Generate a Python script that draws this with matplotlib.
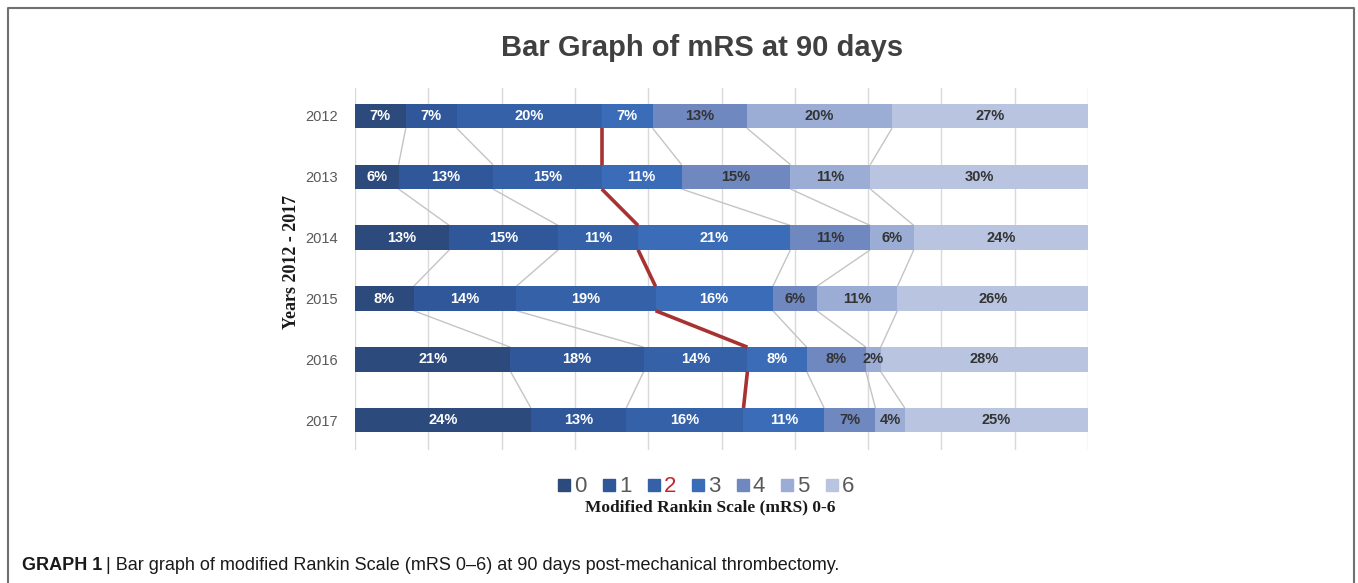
import numpy as np
import matplotlib.pyplot as plt
from matplotlib.lines import Line2D

# mRS distribution (%) at 90 days, categories 0..6
years = ["2012", "2013", "2014", "2015", "2016", "2017"]
mrs_labels = ["0", "1", "2", "3", "4", "5", "6"]
pct_2012 = [7, 7, 20, 7, 13, 20, 27]
pct_2013 = [6, 13, 15, 11, 15, 11, 30]
pct_2014 = [13, 15, 11, 21, 11, 6, 24]
pct_2015 = [8, 14, 19, 16, 6, 11, 26]
pct_2016 = [21, 18, 14, 8, 8, 2, 28]
pct_2017 = [24, 13, 16, 11, 7, 4, 25]

colors = ["#2c4a7c", "#30579a", "#3461a8", "#3b6cb8", "#7088c0", "#9badd4", "#b9c5e0"]
label_colors = ["white", "white", "white", "white", "#333333", "#333333", "#333333"]

plt.rcParams["font.family"] = ["Liberation Sans", "DejaVu Sans"]

data = np.array([pct_2012, pct_2013, pct_2014, pct_2015, pct_2016, pct_2017], dtype=float)
# bars are drawn as 100% stacked, so normalise each year
norm = data / data.sum(axis=1, keepdims=True) * 100
cum = np.cumsum(norm, axis=1)
left = cum - norm

fig = plt.figure(figsize=(13.58, 5.83), dpi=100)
ax = fig.add_axes([355 / 1358, 1 - 450 / 583, 733 / 1358, 362 / 583])

bar_h = 0.40
y = np.arange(len(years))
for k in range(len(mrs_labels)):
    ax.barh(y, norm[:, k], left=left[:, k], height=bar_h, color=colors[k], zorder=3)
    for i in range(len(years)):
        ax.text(left[i, k] + norm[i, k] / 2, y[i], f"{int(data[i, k])}%",
                ha="center", va="center", fontsize=10.5, fontweight="bold",
                color=label_colors[k], zorder=5)

# series lines between consecutive bars
for k in range(len(mrs_labels) - 1):
    is_red = k == 2
    for i in range(len(years) - 1):
        ax.plot([cum[i, k], cum[i + 1, k]], [y[i] + bar_h / 2, y[i + 1] - bar_h / 2],
                color="#a83232" if is_red else "#c4c4c4",
                lw=2.6 if is_red else 1.0, zorder=4 if is_red else 2,
                solid_capstyle="butt")

ax.set_xlim(0, 100)
ax.set_ylim(5.49, -0.46)
ax.set_xticks(np.arange(0, 101, 10))
ax.set_xticklabels([])
ax.tick_params(axis="x", length=0)
ax.tick_params(axis="y", length=0, pad=12, labelsize=10.5, labelcolor="#595959")
ax.set_yticks(y)
ax.set_yticklabels(years)
ax.grid(axis="x", color="#d9d9d9", lw=1, zorder=0)
for s in ax.spines.values():
    s.set_visible(False)

fig.text(702 / 1358, 1 - 48 / 583, "Bar Graph of mRS at 90 days", ha="center", va="center",
         fontsize=21, fontweight="bold", color="#404040")

fig.text(291 / 1358, 1 - 262 / 583, "Years 2012 - 2017", rotation=90, ha="center", va="center",
         family="Liberation Serif", fontsize=13, fontweight="bold", color="#1a1a1a")

handles = [Line2D([], [], marker="s", ls="none", markersize=9, color=c) for c in colors]
leg = fig.legend(handles, mrs_labels, loc="center", bbox_to_anchor=(706 / 1358, 1 - 487 / 583),
                 ncol=7, frameon=False, fontsize=16, handlelength=0.6, handletextpad=0.15,
                 columnspacing=0.7, borderpad=0)
for t in leg.get_texts():
    t.set_color("#595959")
leg.get_texts()[2].set_color("#c0272d")

fig.text(710 / 1358, 1 - 507 / 583, "Modified Rankin Scale (mRS) 0-6", ha="center", va="center",
         family="Liberation Serif", fontsize=12.5, fontweight="bold", color="#1a1a1a")

# caption
cap_y = 1 - 565 / 583
t1 = fig.text(22 / 1358, cap_y, "GRAPH 1", ha="left", va="center", fontsize=13,
              fontweight="bold", color="#1a1a1a")
fig.canvas.draw()
bb = t1.get_window_extent()
x2 = (bb.x1 + 4) / 1358
fig.text(x2, cap_y, "| Bar graph of modified Rankin Scale (mRS 0\u20136) at 90 days post-mechanical thrombectomy.",
         ha="left", va="center", fontsize=13, color="#1a1a1a")

# page frame (top, left, right)
fig.add_artist(Line2D([8 / 1358, 8 / 1358, 1354 / 1358, 1354 / 1358],
                      [0, 1 - 8 / 583, 1 - 8 / 583, 0], transform=fig.transFigure,
                      color="#707070", lw=1.5))

fig.savefig("out.png", dpi=100)
